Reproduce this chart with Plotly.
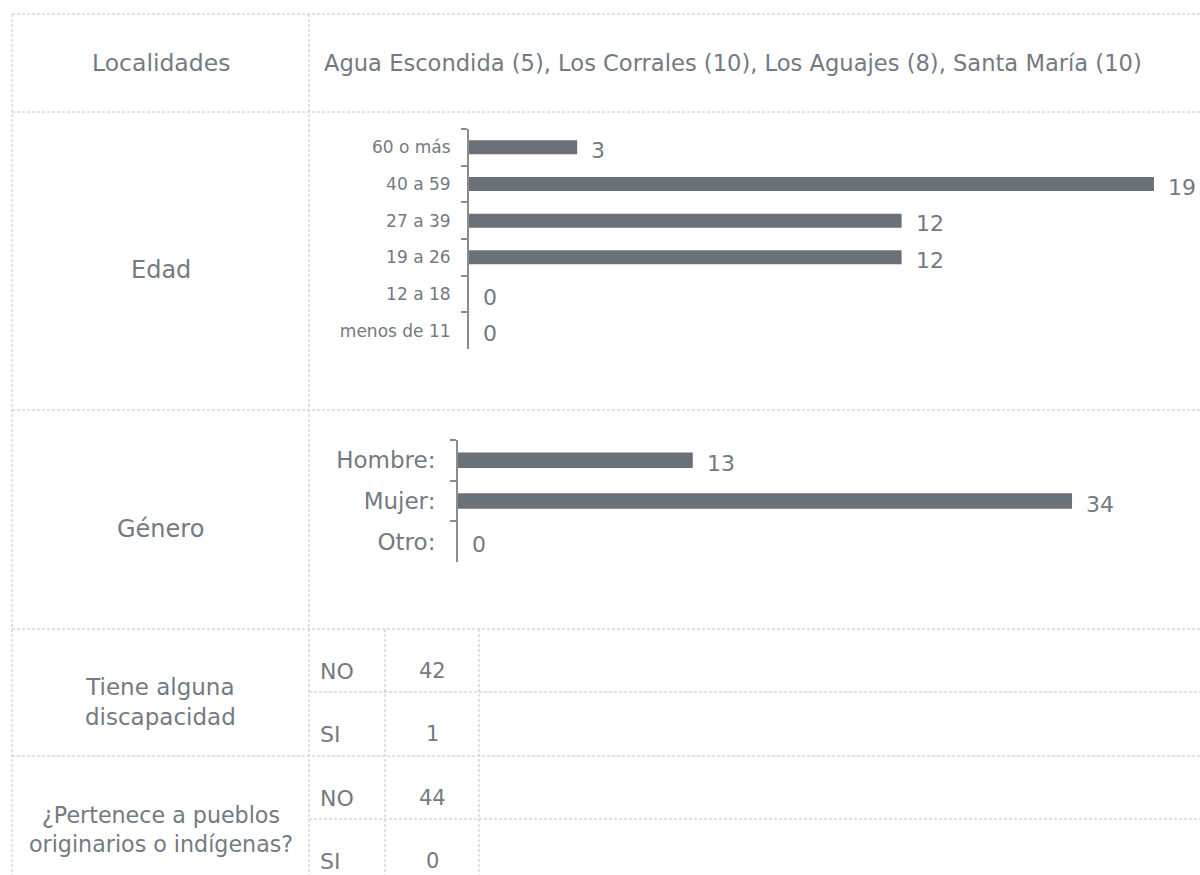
import plotly.graph_objects as go

W, H = 1200, 875
FONT = "DejaVu Sans"
TEXT = "#737a82"
BAR = "#6b7178"
AXIS = "#8c8c8c"
GRID = "#c4c4c4"

# ---------------- data ----------------
localidades_label = "Localidades"
localidades_text = "Agua Escondida (5), Los Corrales (10), Los Aguajes (8), Santa María (10)"

edad_label = "Edad"
edad_cats = ["60 o más", "40 a 59", "27 a 39", "19 a 26", "12 a 18", "menos de 11"]
edad_vals = [3, 19, 12, 12, 0, 0]

genero_label = "Género"
genero_cats = ["Hombre:", "Mujer:", "Otro:"]
genero_vals = [13, 34, 0]

disc_label = "Tiene alguna<br>discapacidad"
disc_cats = ["NO", "SI"]
disc_vals = [42, 1]

indig_label = "¿Pertenece a pueblos<br>originarios o indígenas?"
indig_cats = ["NO", "SI"]
indig_vals = [44, 0]


def px(x):
    return x / W


def py(y):
    return 1 - y / H


fig = go.Figure()

# ---------------- bar charts ----------------
fig.add_trace(go.Bar(y=edad_cats, x=edad_vals, orientation="h", marker=dict(color=BAR, line=dict(width=0)),
                     xaxis="x", yaxis="y", hoverinfo="x+y", showlegend=False))
fig.add_trace(go.Bar(y=genero_cats, x=genero_vals, orientation="h", marker=dict(color=BAR, line=dict(width=0)),
                     xaxis="x2", yaxis="y2", hoverinfo="x+y", showlegend=False))

annotations = []
VAL_SIZE = 22
for c, v in zip(edad_cats, edad_vals):
    annotations.append(dict(x=v, y=c, xref="x", yref="y", text=str(v), showarrow=False,
                            xanchor="left", yanchor="middle", xshift=12, yshift=-3,
                            font=dict(family=FONT, size=VAL_SIZE, color=TEXT)))
for c, v in zip(genero_cats, genero_vals):
    annotations.append(dict(x=v, y=c, xref="x2", yref="y2", text=str(v), showarrow=False,
                            xanchor="left", yanchor="middle", xshift=12, yshift=-3,
                            font=dict(family=FONT, size=VAL_SIZE, color=TEXT)))

# ---------------- table geometry ----------------
LEFT, TOP, COL1, RIGHT, BOTTOM = 12, 14, 309, 1200, 875
ROWS = [14, 112, 410, 629, 756]
SUB_ROWS = [692, 819]
SUB_COLS = [385, 479]

shapes = []
dash = "3px,2px"


def hline(y, x0, x1):
    shapes.append(dict(type="line", xref="paper", yref="paper", x0=px(x0), x1=px(x1), y0=py(y), y1=py(y),
                       line=dict(color=GRID, width=1, dash=dash), layer="below"))


def vline(x, y0, y1):
    shapes.append(dict(type="line", xref="paper", yref="paper", x0=px(x), x1=px(x), y0=py(y0), y1=py(y1),
                       line=dict(color=GRID, width=1, dash=dash), layer="below"))


for y in ROWS:
    hline(y, LEFT, RIGHT)
for y in SUB_ROWS:
    hline(y, COL1, RIGHT)
vline(LEFT, TOP, BOTTOM)
vline(COL1, TOP, BOTTOM)
for x in SUB_COLS:
    vline(x, ROWS[3], BOTTOM)


def label(text, x, y, size=21, anchor="center"):
    annotations.append(dict(x=px(x), y=py(y), xref="paper", yref="paper", text=text, showarrow=False,
                            xanchor=anchor, yanchor="middle", align="center",
                            font=dict(family=FONT, size=size, color=TEXT)))


CX = (LEFT + COL1) / 2
label(localidades_label, CX, 63, 23.5)
label(localidades_text, 322, 63, 22.6, "left")
label(edad_label, CX, 270, 24)
label(genero_label, CX, 529, 24)
label(disc_label, CX, 702, 23)
label(indig_label, CX, 829, 22.2)

sub_tops = [ROWS[3], SUB_ROWS[0], ROWS[4], SUB_ROWS[1]]
cats = disc_cats + indig_cats
vals = disc_vals + indig_vals
for top, c, v in zip(sub_tops, cats, vals):
    label(c, 318, top + 42, 22, "left")
    label(str(v), (SUB_COLS[0] + SUB_COLS[1]) / 2, top + 42, 21)

# ---------------- layout ----------------
edad_scale = 36.05   # px per unit
gen_scale = 18.06
E_AX, G_AX = 469, 458

fig.update_layout(
    width=W, height=H, margin=dict(l=0, r=0, t=0, b=0),
    paper_bgcolor="white", plot_bgcolor="rgba(0,0,0,0)",
    bargap=0.62, showlegend=False,
    font=dict(family=FONT, color=TEXT),
    xaxis=dict(domain=[px(E_AX), 1], range=[0, (W - E_AX) / edad_scale], anchor="y",
               showgrid=False, zeroline=False, showticklabels=False, showline=False, ticks="",
               fixedrange=True),
    yaxis=dict(domain=[py(349), py(129)], anchor="x", type="category",
               categoryorder="array", categoryarray=edad_cats, autorange="reversed",
               showline=True, linecolor=AXIS, linewidth=2, ticks="outside", tickson="boundaries",
               ticklen=6, tickwidth=1.5, tickcolor=AXIS, showgrid=False, zeroline=False,
               ticklabelstandoff=13, tickfont=dict(family=FONT, size=17, color=TEXT), fixedrange=True),
    xaxis2=dict(domain=[px(G_AX), 1], range=[0, (W - G_AX) / gen_scale], anchor="y2",
                showgrid=False, zeroline=False, showticklabels=False, showline=False, ticks="",
                fixedrange=True),
    yaxis2=dict(domain=[py(562), py(440)], anchor="x2", type="category",
                categoryorder="array", categoryarray=genero_cats, autorange="reversed",
                showline=True, linecolor=AXIS, linewidth=2, ticks="outside", tickson="boundaries",
                ticklen=6, tickwidth=1.5, tickcolor=AXIS, showgrid=False, zeroline=False,
                ticklabelstandoff=16, tickfont=dict(family=FONT, size=23, color=TEXT), fixedrange=True),
    shapes=shapes,
    annotations=annotations,
)

fig.write_html(
    "out.html",
    config={"displayModeBar": False},
    post_script="document.body.style.margin='0';document.body.style.overflow='hidden';",
)
